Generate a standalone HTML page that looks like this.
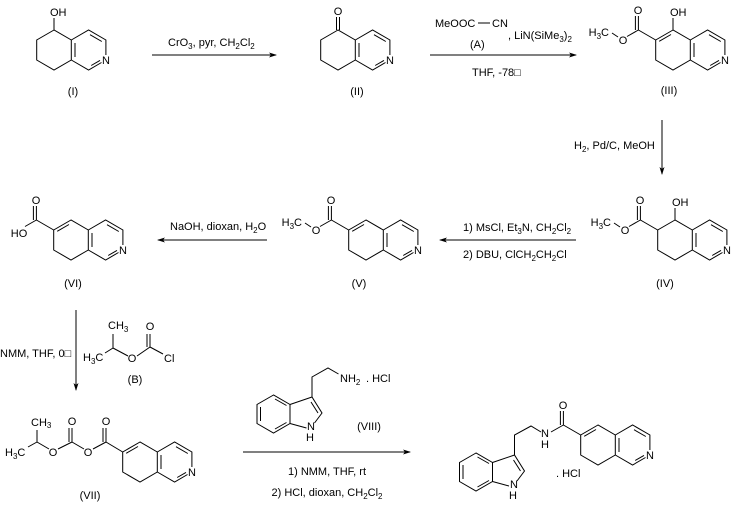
<!DOCTYPE html>
<html><head><meta charset="utf-8"><style>
html,body{margin:0;padding:0;background:#fff;}
svg{display:block;}
text{font-family:"Liberation Sans",sans-serif;font-size:11px;fill:#000;}
.s{font-size:8px;}
</style></head><body>
<svg width="739" height="512" viewBox="0 0 739 512" xmlns="http://www.w3.org/2000/svg">
<defs>
<g id="bic" stroke="#000" stroke-width="1" fill="none">
<path d="M0,-20 L-17.3,-10 L-17.3,10 L0,20 L17.3,10 L17.3,-10 Z"/>
<path d="M17.3,-10 L34.6,-20 L51.9,-10 L51.9,5 M47.5,12.5 L34.6,20 L17.3,10"/>
<path d="M21,-7 L21,7 M36,-15.3 L47.8,-8.5 M37.2,15.5 L46,10.4"/>
</g>
<g id="dAB" stroke="#000" stroke-width="1"><path d="M-2,-15.5 L-13.8,-8.7"/></g>
<g id="est" stroke="#000" stroke-width="1" fill="none">
<path d="M-17.3,-10 L-34.6,-20 M-34.6,-20 L-34.6,-34 M-37.6,-20 L-37.6,-34 M-34.6,-20 L-46,-13.5 M-55,-13 L-61,-17"/>
</g>
<g id="arrR"><path d="M0,0 L-8,-2.5 L-6,0 L-8,2.5 Z" fill="#000"/></g>
</defs>

<g stroke="#000" stroke-width="1" fill="none">
<path d="M152,55 L276,55"/>
<path d="M430,55 L576,55"/>
<path d="M662,120 L662,174"/>
<path d="M576,240 L440,240"/>
<path d="M267,240 L158,240"/>
<path d="M76,310 L76,390"/>
<path d="M243,452 L410,452"/>
</g>
<use href="#arrR" transform="translate(277,55)"/>
<use href="#arrR" transform="translate(577,55)"/>
<use href="#arrR" transform="translate(662,175) rotate(90)"/>
<use href="#arrR" transform="translate(439,240) rotate(180)"/>
<use href="#arrR" transform="translate(157,240) rotate(180)"/>
<use href="#arrR" transform="translate(76,391) rotate(90)"/>
<use href="#arrR" transform="translate(411,452)"/>

<!-- (I) -->
<g transform="translate(54,50)">
<use href="#bic"/>
<path d="M0,-20 L0,-32" stroke="#000"/>
<text x="52" y="14" text-anchor="middle">N</text>
<text x="-4" y="-34">OH</text>
</g>
<text x="73" y="95" text-anchor="middle">(I)</text>
<text x="168" y="46">CrO<tspan class="s" dy="3">3</tspan><tspan dy="-3">, pyr, CH</tspan><tspan class="s" dy="3">2</tspan><tspan dy="-3">Cl</tspan><tspan class="s" dy="3">2</tspan></text>

<!-- (II) -->
<g transform="translate(338,50)">
<use href="#bic"/>
<path d="M-1.5,-20 L-1.5,-33 M1.5,-20 L1.5,-33" stroke="#000"/>
<text x="52" y="14" text-anchor="middle">N</text>
<text x="0" y="-35" text-anchor="middle">O</text>
</g>
<text x="357" y="95" text-anchor="middle">(II)</text>
<text x="435" y="27">MeOOC</text>
<path d="M478,23 L490,23" stroke="#000"/>
<text x="492" y="27">CN</text>
<text x="470" y="48">(A)</text>
<text x="508" y="39">, LiN(SiMe<tspan class="s" dy="3">3</tspan><tspan dy="-3">)</tspan><tspan class="s" dy="3">2</tspan></text>
<text x="472" y="76">THF, -78□</text>

<!-- (III) -->
<g transform="translate(673,50)">
<use href="#bic"/><use href="#dAB"/><use href="#est"/>
<path d="M0,-20 L0,-32" stroke="#000"/>
<text x="52" y="14" text-anchor="middle">N</text>
<text x="-3" y="-34">OH</text>
<text x="-35" y="-36" text-anchor="middle">O</text>
<text x="-50" y="-6" text-anchor="middle">O</text>
<text x="-64" y="-14" text-anchor="end">H<tspan class="s" dy="3">3</tspan><tspan dy="-3">C</tspan></text>
</g>
<text x="669" y="94" text-anchor="middle">(III)</text>
<text x="574" y="149">H<tspan class="s" dy="3">2</tspan><tspan dy="-3">, Pd/C, MeOH</tspan></text>

<!-- (IV) -->
<g transform="translate(675,240)">
<use href="#bic"/><use href="#est"/>
<path d="M0,-20 L0,-32" stroke="#000"/>
<text x="52" y="14" text-anchor="middle">N</text>
<text x="-3" y="-34">OH</text>
<text x="-35" y="-36" text-anchor="middle">O</text>
<text x="-50" y="-6" text-anchor="middle">O</text>
<text x="-64" y="-14" text-anchor="end">H<tspan class="s" dy="3">3</tspan><tspan dy="-3">C</tspan></text>
</g>
<text x="665" y="287" text-anchor="middle">(IV)</text>
<text x="463" y="231">1) MsCl, Et<tspan class="s" dy="3">3</tspan><tspan dy="-3">N, CH</tspan><tspan class="s" dy="3">2</tspan><tspan dy="-3">Cl</tspan><tspan class="s" dy="3">2</tspan></text>
<text x="463" y="258">2) DBU, ClCH<tspan class="s" dy="3">2</tspan><tspan dy="-3">CH</tspan><tspan class="s" dy="3">2</tspan><tspan dy="-3">Cl</tspan></text>

<!-- (V) -->
<g transform="translate(366,240)">
<use href="#bic"/><use href="#dAB"/><use href="#est"/>
<text x="52" y="14" text-anchor="middle">N</text>
<text x="-35" y="-36" text-anchor="middle">O</text>
<text x="-50" y="-6" text-anchor="middle">O</text>
<text x="-64" y="-14" text-anchor="end">H<tspan class="s" dy="3">3</tspan><tspan dy="-3">C</tspan></text>
</g>
<text x="359" y="287" text-anchor="middle">(V)</text>
<text x="170" y="230">NaOH, dioxan, H<tspan class="s" dy="3">2</tspan><tspan dy="-3">O</tspan></text>

<!-- (VI) -->
<g transform="translate(71,240)">
<use href="#bic"/><use href="#dAB"/>
<path d="M-17.3,-10 L-34.6,-20 M-34.6,-20 L-34.6,-34 M-37.6,-20 L-37.6,-34 M-34.6,-20 L-46,-13.5" stroke="#000" fill="none"/>
<text x="52" y="14" text-anchor="middle">N</text>
<text x="-35" y="-36" text-anchor="middle">O</text>
<text x="-52" y="-3" text-anchor="middle">HO</text>
</g>
<text x="73" y="287" text-anchor="middle">(VI)</text>

<text x="0" y="357">NMM, THF, 0□</text>
<!-- (B) -->
<path d="M105,353 L113,348 L113,334 M113,348 L128,356 M137,356 L150,347 L150,334 M147,347 L147,334 M150,347 L163,354" stroke="#000" fill="none"/>
<text x="108" y="329">CH<tspan class="s" dy="3">3</tspan></text>
<text x="83" y="361">H<tspan class="s" dy="3">3</tspan><tspan dy="-3">C</tspan></text>
<text x="132" y="362" text-anchor="middle">O</text>
<text x="150" y="330" text-anchor="middle">O</text>
<text x="164" y="362">Cl</text>
<text x="135" y="383" text-anchor="middle">(B)</text>

<!-- (VII) -->
<g transform="translate(140,462)">
<use href="#bic"/><use href="#dAB"/>
<text x="52" y="14" text-anchor="middle">N</text>
</g>
<path d="M122.7,452 L106,442 L106,428 M103,442 L103,428 M106,442 L93,449 M84,449 L72,442 L72,428 M69,442 L69,428 M72,442 L58,449 M49,449 L37,442 L37,430 M37,442 L28,447" stroke="#000" fill="none"/>
<text x="106" y="425" text-anchor="middle">O</text>
<text x="72" y="425" text-anchor="middle">O</text>
<text x="88" y="456" text-anchor="middle">O</text>
<text x="53" y="456" text-anchor="middle">O</text>
<text x="31" y="426">CH<tspan class="s" dy="2">3</tspan></text>
<text x="5" y="456">H<tspan class="s" dy="3">3</tspan><tspan dy="-3">C</tspan></text>
<text x="90" y="499" text-anchor="middle">(VII)</text>

<!-- (VIII) -->
<g transform="translate(273.5,414)" stroke="#000" fill="none">
<path d="M0,-19 L-16.5,-9.5 L-16.5,9.5 L0,19 L16.5,9.5 L16.5,-9.5 Z"/>
<path d="M-13,-7 L-13,7 M1.5,-15 L13,-8.5 M1.5,15 L13,8.5"/>
<path d="M16.5,-9.5 L38.5,-17 L48.5,-1 L41,9 M33,14 L16.5,9.5"/>
<path d="M37.5,-12 L44.5,-1"/>
<path d="M38.5,-17 L38.5,-37 L54.5,-46 L65,-40"/>
</g>
<text x="311" y="430" text-anchor="middle">N</text>
<text x="310" y="441" text-anchor="middle">H</text>
<text x="340" y="382">NH<tspan class="s" dy="3">2</tspan></text>
<text x="366" y="382">. HCl</text>
<text x="369" y="430" text-anchor="middle">(VIII)</text>
<text x="327" y="475" text-anchor="middle">1) NMM, THF, rt</text>
<text x="327" y="496" text-anchor="middle">2) HCl, dioxan, CH<tspan class="s" dy="3">2</tspan><tspan dy="-3">Cl</tspan><tspan class="s" dy="3">2</tspan></text>

<!-- product -->
<g transform="translate(598,445)">
<use href="#bic"/><use href="#dAB"/>
<path d="M-17.3,-10 L-34.6,-20 M-34.6,-20 L-34.6,-34 M-37.6,-20 L-37.6,-34 M-34.6,-20 L-47,-13" stroke="#000" fill="none"/>
<text x="52" y="14" text-anchor="middle">N</text>
<text x="-35" y="-36" text-anchor="middle">O</text>
</g>
<text x="545" y="437" text-anchor="middle">N</text>
<text x="545" y="448" text-anchor="middle">H</text>
<g transform="translate(476,472)" stroke="#000" fill="none">
<path d="M0,-19 L-16.5,-9.5 L-16.5,9.5 L0,19 L16.5,9.5 L16.5,-9.5 Z"/>
<path d="M-13,-7 L-13,7 M1.5,-15 L13,-8.5 M1.5,15 L13,8.5"/>
<path d="M16.5,-9.5 L38.5,-17 L48.5,-1 L41,9 M33,14 L16.5,9.5"/>
<path d="M37.5,-12 L44.5,-1"/>
<path d="M38.5,-17 L38.5,-37 L55,-46 L65,-40"/>
</g>
<text x="514" y="488" text-anchor="middle">N</text>
<text x="513" y="499" text-anchor="middle">H</text>
<text x="556" y="477">. HCl</text>
</svg>
</body></html>
